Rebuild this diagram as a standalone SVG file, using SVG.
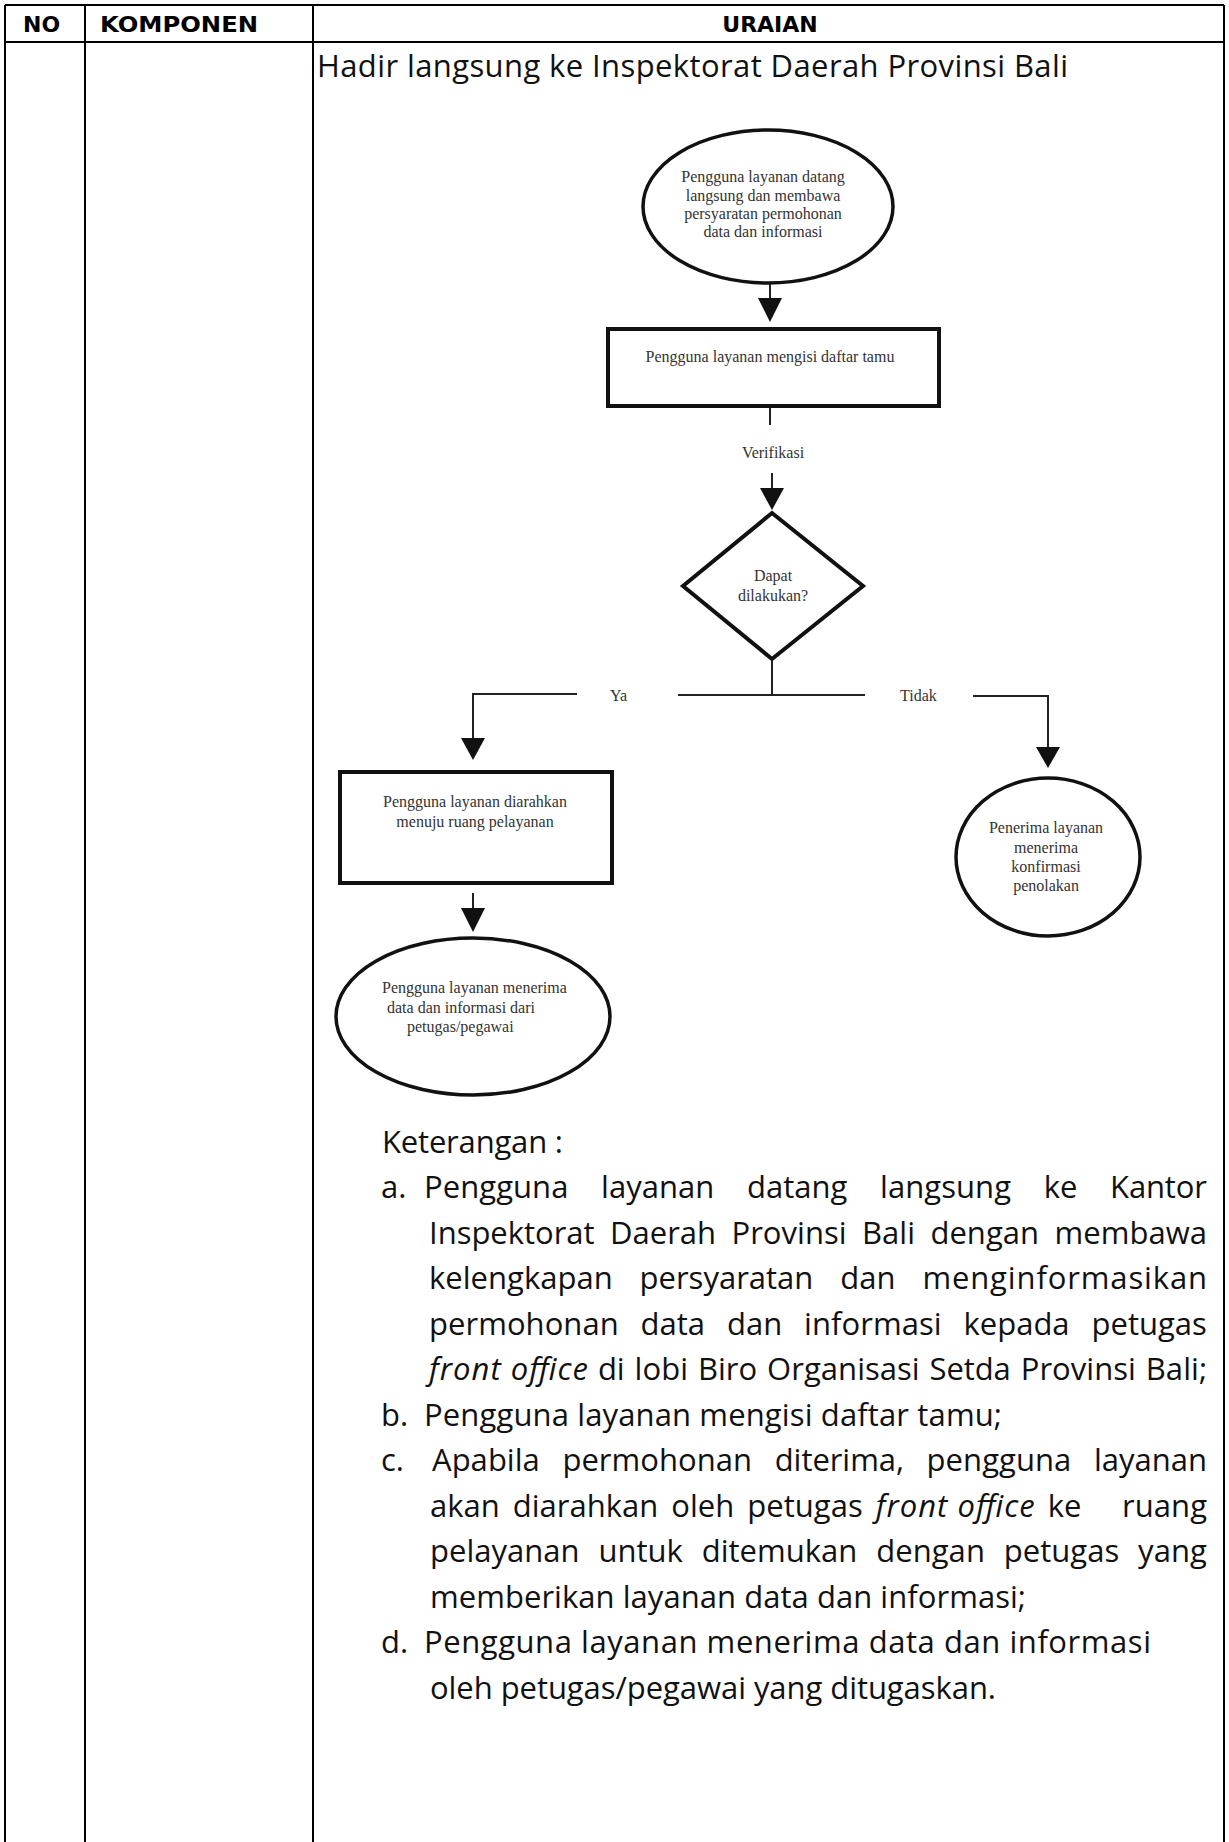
<svg xmlns="http://www.w3.org/2000/svg" width="1229" height="1842" viewBox="0 0 1229 1842">
<style>
.tbl{stroke:#000;stroke-width:2;fill:none}
.hd{font-family:"DejaVu Sans",sans-serif;font-weight:bold;font-size:22px;fill:#000}
.body{font-family:"Open Sans","Noto Sans",sans-serif;font-size:31px;fill:#111}
.it{font-style:italic}
.shape{fill:#fff;stroke:#111;stroke-width:4}
.ell{fill:#fff;stroke:#111;stroke-width:3.5}
.con{stroke:#222;stroke-width:2;fill:none}
.ah{fill:#111;stroke:none}
.fc{font-family:"Liberation Serif","Times New Roman",serif;font-size:16px;fill:#333}
.mid{text-anchor:middle}
</style>
<rect width="1229" height="1842" fill="#fff"/>
<g id="table">
<line class="tbl" x1="5" y1="5" x2="1224" y2="5"/>
<line class="tbl" x1="5" y1="42" x2="1224" y2="42"/>
<line class="tbl" x1="5" y1="5" x2="5" y2="1842"/>
<line class="tbl" x1="85" y1="5" x2="85" y2="1842"/>
<line class="tbl" x1="313" y1="5" x2="313" y2="1842"/>
<line class="tbl" x1="1224" y1="5" x2="1224" y2="1842"/>
<text class="hd" x="23" y="32">NO</text>
<text class="hd" x="100" y="32" textLength="158" lengthAdjust="spacingAndGlyphs">KOMPONEN</text>
<text class="hd mid" x="770" y="32">URAIAN</text>
</g>
<text class="body" x="317" y="77" textLength="751" lengthAdjust="spacing">Hadir langsung ke Inspektorat Daerah Provinsi Bali</text>

<g id="connectors">
<line class="con" x1="770" y1="283" x2="770" y2="300"/>
<polygon class="ah" points="758,298 782,298 770,322"/>
<line class="con" x1="770" y1="406" x2="770" y2="425"/>
<line class="con" x1="772" y1="473" x2="772" y2="490"/>
<polygon class="ah" points="760,488 784,488 772,510"/>
<line class="con" x1="772" y1="659" x2="772" y2="695"/>
<line class="con" x1="678" y1="695" x2="865" y2="695"/>
<polyline class="con" points="577,694 473,694 473,740"/>
<polygon class="ah" points="461,738 485,738 473,760"/>
<line class="con" x1="473" y1="893" x2="473" y2="910"/>
<polygon class="ah" points="461,908 485,908 473,932"/>
<polyline class="con" points="973,696 1048,696 1048,749"/>
<polygon class="ah" points="1036,747 1060,747 1048,768"/>
<text class="fc mid" x="773" y="458">Verifikasi</text>
<text class="fc" x="610" y="701">Ya</text>
<text class="fc" x="900" y="701">Tidak</text>
</g>

<g id="start">
<ellipse class="ell" cx="768" cy="206.5" rx="125" ry="76.5"/>
<text class="fc mid" x="763" y="182">Pengguna layanan datang</text>
<text class="fc mid" x="763" y="201">langsung dan membawa</text>
<text class="fc mid" x="763" y="219">persyaratan permohonan</text>
<text class="fc mid" x="763" y="237">data dan informasi</text>
</g>
<g id="daftar">
<rect class="shape" x="608" y="329" width="331" height="77"/>
<text class="fc mid" x="770" y="362">Pengguna layanan mengisi daftar tamu</text>
</g>
<g id="decision">
<polygon class="shape" points="772,513 863,586 772,659 683,586"/>
<text class="fc mid" x="773" y="581">Dapat</text>
<text class="fc mid" x="773" y="601">dilakukan?</text>
</g>
<g id="diarahkan">
<rect class="shape" x="340" y="772" width="272" height="111"/>
<text class="fc mid" x="475" y="807">Pengguna layanan diarahkan</text>
<text class="fc mid" x="475" y="827">menuju ruang pelayanan</text>
</g>
<g id="menerima">
<ellipse class="ell" cx="473" cy="1016.5" rx="137" ry="78.5"/>
<text class="fc" x="382" y="993">Pengguna layanan menerima</text>
<text class="fc" x="387" y="1013">data dan informasi dari</text>
<text class="fc" x="407" y="1032">petugas/pegawai</text>
</g>
<g id="penolakan">
<ellipse class="ell" cx="1048" cy="857" rx="92" ry="79"/>
<text class="fc mid" x="1046" y="833">Penerima layanan</text>
<text class="fc mid" x="1046" y="853">menerima</text>
<text class="fc mid" x="1046" y="872">konfirmasi</text>
<text class="fc mid" x="1046" y="891">penolakan</text>
</g>

<g id="keterangan">
<text class="body" x="382" y="1153" textLength="181" lengthAdjust="spacing">Keterangan :</text>
<text class="body" y="1198"><tspan x="381">a.</tspan><tspan x="424" textLength="144.4">Pengguna</tspan><tspan x="601.1" textLength="113.2">layanan</tspan><tspan x="747" textLength="100.4">datang</tspan><tspan x="880.1" textLength="130.9">langsung</tspan><tspan x="1043.7" textLength="33.7">ke</tspan><tspan x="1110.1" textLength="96.8">Kantor</tspan></text>
<text class="body" y="1243.5"><tspan x="429" textLength="165.6">Inspektorat</tspan><tspan x="610" textLength="106.1">Daerah</tspan><tspan x="731.5" textLength="115.1">Provinsi</tspan><tspan x="862" textLength="53">Bali</tspan><tspan x="930.4" textLength="108.7">dengan</tspan><tspan x="1054.5" textLength="152.6">membawa</tspan></text>
<text class="body" y="1289"><tspan x="429" textLength="183.7">kelengkapan</tspan><tspan x="639.6" textLength="173.7">persyaratan</tspan><tspan x="840.2" textLength="55.3">dan</tspan><tspan x="922.4" textLength="284.6">menginformasikan</tspan></text>
<text class="body" y="1334.5"><tspan x="429" textLength="189.7">permohonan</tspan><tspan x="640.6" textLength="64.4">data</tspan><tspan x="726.9" textLength="55.3">dan</tspan><tspan x="804.1" textLength="137.5">informasi</tspan><tspan x="963.5" textLength="106.1">kepada</tspan><tspan x="1091.5" textLength="115.4">petugas</tspan></text>
<text class="body" y="1380"><tspan x="429" class="it" textLength="159">front office</tspan><tspan x="597.9" textLength="26.8">di</tspan><tspan x="634.6" textLength="53.4">lobi</tspan><tspan x="697.9" textLength="59.3">Biro</tspan><tspan x="767.1" textLength="152.6">Organisasi</tspan><tspan x="929.6" textLength="81.2">Setda</tspan><tspan x="1020.7" textLength="115.1">Provinsi</tspan><tspan x="1145.7" textLength="61.5">Bali;</tspan></text>
<text class="body" y="1425.5"><tspan x="381">b.</tspan><tspan x="424" textLength="578" lengthAdjust="spacing">Pengguna layanan mengisi daftar tamu;</tspan></text>
<text class="body" y="1471"><tspan x="381">c.</tspan><tspan x="432" textLength="107.8">Apabila</tspan><tspan x="562.4" textLength="189.7">permohonan</tspan><tspan x="774.7" textLength="129.3">diterima,</tspan><tspan x="926.6" textLength="144.7">pengguna</tspan><tspan x="1093.9" textLength="113.2">layanan</tspan></text>
<text class="body" y="1516.5"><tspan x="430" textLength="69.8">akan</tspan><tspan x="512.8" textLength="145.5">diarahkan</tspan><tspan x="671.3" textLength="63">oleh</tspan><tspan x="747.3" textLength="115.4">petugas</tspan><tspan x="875.7" class="it" textLength="159">front office</tspan><tspan x="1047.7" textLength="33.7">ke</tspan><tspan x="1122.1" textLength="84.9">ruang</tspan></text>
<text class="body" y="1562"><tspan x="430" textLength="149.6">pelayanan</tspan><tspan x="598.5" textLength="84.3">untuk</tspan><tspan x="701.7" textLength="155.6">ditemukan</tspan><tspan x="876.2" textLength="108.7">dengan</tspan><tspan x="1003.8" textLength="115.4">petugas</tspan><tspan x="1138.1" textLength="68.8">yang</tspan></text>
<text class="body" x="430" y="1607.5" textLength="596" lengthAdjust="spacing">memberikan layanan data dan informasi;</text>
<text class="body" y="1653"><tspan x="381">d.</tspan><tspan x="424" textLength="727" lengthAdjust="spacing">Pengguna layanan menerima data dan informasi</tspan></text>
<text class="body" x="430" y="1698.5" textLength="566" lengthAdjust="spacing">oleh petugas/pegawai yang ditugaskan.</text>
</g>
</svg>
